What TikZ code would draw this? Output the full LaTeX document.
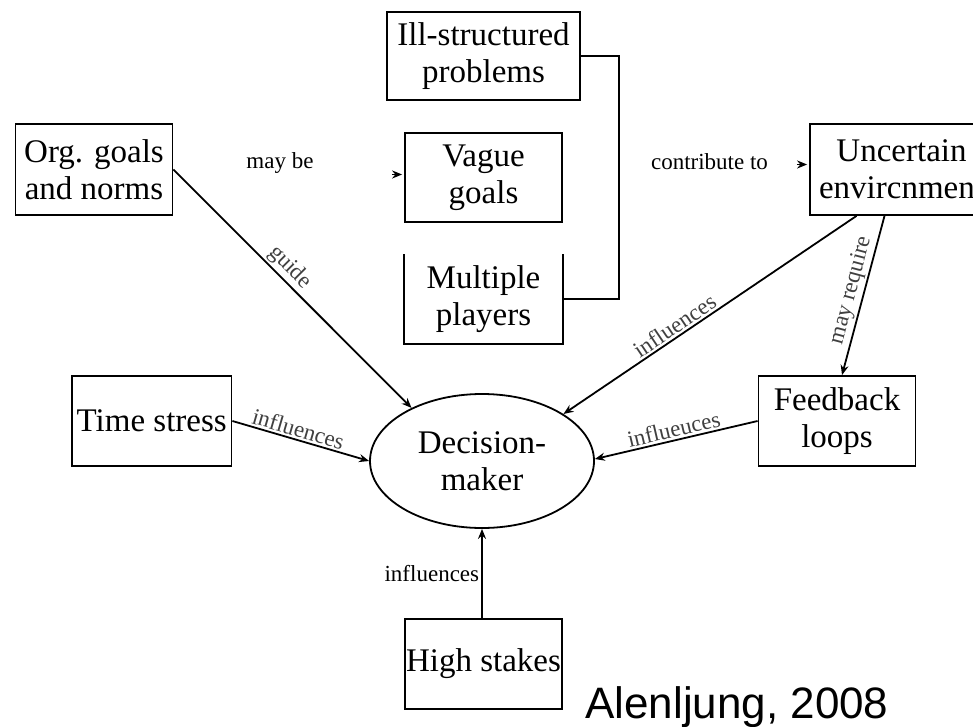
\documentclass[tikz,border=0pt]{standalone}
\usepackage{fontspec}
\setmainfont{Liberation Serif}
\newfontfamily\creditfont{Liberation Sans}
\usetikzlibrary{arrows.meta,shapes.geometric}
\begin{document}
\begin{tikzpicture}[x=1pt,y=-1pt,
  box/.style={draw, line width=1.8pt, minimum width=157pt, minimum height=90pt,
    align=center, inner sep=0pt, font=\fontsize{33}{37}\selectfont},
  dmnode/.style={draw, ellipse, line width=1.8pt, minimum width=224pt,
    minimum height=134pt, align=center, inner sep=0pt, font=\fontsize{33}{37}\selectfont},
  conn/.style={line width=1.8pt},
  arr/.style={conn, -{Stealth[length=10pt,width=8pt]}},
  lab/.style={font=\fontsize{23}{26}\selectfont, text=black!75, inner sep=2pt},
]
\useasboundingbox (0,0) rectangle (973,727);
\clip (0,0) rectangle (973,727);

% central decision maker
\node[dmnode] (dm) at (482,461) {Decision-\\maker};

% boxes
\node[box, minimum width=193pt, minimum height=88pt] (ill) at (483.5,56) {Ill-structured\\problems};
\node[box, minimum height=89pt] (vg) at (483.5,177.5) {Vague\\goals};
\node[box, draw=none, minimum height=88pt] (mp) at (483.5,299) {Multiple\\players};
\draw[conn] (mp.north west) -- (mp.south west) -- (mp.south east) -- (mp.north east);
\node[box, minimum height=91pt] (org) at (94,169.5) {Org. goals\\and norms};
\node[box, minimum width=183pt, minimum height=91pt] (ue) at (901.5,169.5) {Uncertain\\envircnment};
\node[box, minimum width=159.5pt] (ts) at (151.75,421) {Time stress};
\node[box] (fb) at (837,421) {Feedback\\loops};
\node[box] (hs) at (483.5,664) {High stakes};

% bracket joining problems and players
\coordinate (bend) at (619,56);
\draw[conn] (ill.east) -- (bend) |- (mp.east);

% free labels with short arrow tips
\node[lab, text=black] (mb) at (280,163) {may be};
\draw[arr] ([xshift=-12pt,yshift=3pt]vg.west) -- ([xshift=-2pt,yshift=3pt]vg.west);
\node[lab, text=black] (ct) at (709.5,162) {contribute to};
\draw[arr] ([xshift=-12pt,yshift=5pt]ue.west) -- ([xshift=-2pt,yshift=5pt]ue.west);

% influences on the decision maker
\draw[arr] (org.east) -- node[lab, sloped, above, pos=0.45] {guide} (dm.143);
\draw[arr] (ts.east) -- node[lab, sloped, above, pos=0.46] {influences} (dm.180);
\draw[arr] ([xshift=-45pt]ue.south) -- node[lab, sloped, above, pos=0.6] {influences} (dm.30);
\draw[arr] ([xshift=-17pt]ue.south) -- node[lab, sloped, above, pos=0.49] {may require} ([xshift=5pt]fb.north);
\draw[arr] (fb.west) -- node[lab, sloped, above, pos=0.5] {influeuces} (dm.1);
\draw[arr] (hs.north -| dm.south) -- node[lab, left, text=black] {influences} (dm.south);

% source
\node[anchor=base west, inner sep=0pt, font=\creditfont\fontsize{44}{50}\selectfont] (src) at (585,718) {Alenljung, 2008};
\end{tikzpicture}
\end{document}
